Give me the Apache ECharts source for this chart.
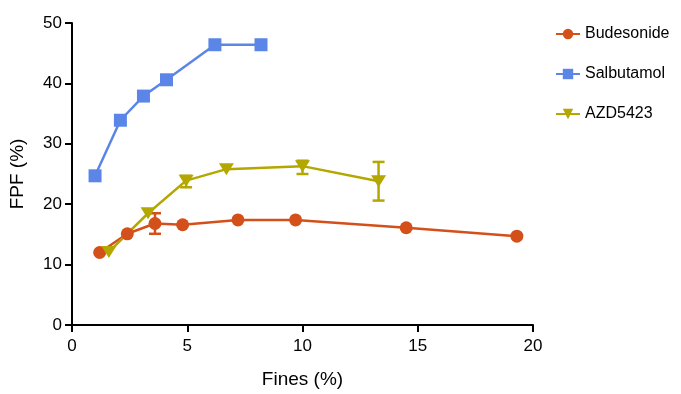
<!DOCTYPE html>
<html>
<head>
<meta charset="utf-8">
<script src="https://cdn.jsdelivr.net/npm/echarts@6/dist/echarts.min.js"></script>
<style>
  html, body { margin: 0; padding: 0; background: #fff; }
  #chart { width: 681px; height: 394px; }
</style>
</head>
<body>
<div id="chart"></div>
<script>
// data: [fines %, FPF %]
const budesonide = [[1.2, 12.0], [2.4, 15.1], [3.6, 16.8], [4.8, 16.6], [7.2, 17.4], [9.7, 17.4], [14.5, 16.1], [19.3, 14.7]];
const salbutamol = [[1.0, 24.7], [2.1, 33.9], [3.1, 37.9], [4.1, 40.6], [6.2, 46.4], [8.2, 46.4]];
const azd5423 = [[1.6, 12.1], [3.3, 18.5], [4.95, 23.9], [6.7, 25.8], [10.0, 26.3], [13.3, 23.8]];
// error bars: [x, low, high]
const budesonideErr = [[3.6, 15.1, 18.5]];
const azdErr = [[4.95, 22.8, 24.7], [10.0, 25.0, 27.2], [13.3, 20.6, 27.0]];

const colors = { bud: '#d4501b', sal: '#5b86e8', azd: '#b3a700' };
const font = 'Liberation Sans, Arial, Helvetica, sans-serif';

const errSeries = (data, color) => ({
  type: 'custom',
  data: data,
  silent: true,
  z: 1,
  renderItem: (params, api) => {
    const lo = api.coord([api.value(0), api.value(1)]);
    const hi = api.coord([api.value(0), api.value(2)]);
    const w = 6;
    const style = { stroke: color, lineWidth: 2.5 };
    return {
      type: 'group',
      children: [
        { type: 'line', shape: { x1: lo[0], y1: lo[1], x2: hi[0], y2: hi[1] }, style },
        { type: 'line', shape: { x1: lo[0] - w, y1: lo[1], x2: lo[0] + w, y2: lo[1] }, style },
        { type: 'line', shape: { x1: hi[0] - w, y1: hi[1], x2: hi[0] + w, y2: hi[1] }, style }
      ]
    };
  }
});

const chart = echarts.init(document.getElementById('chart'));
chart.setOption({
  animation: false,
  textStyle: { fontFamily: font },
  grid: { left: 72, right: 148, top: 23, bottom: 65 },
  legend: {
    orient: 'vertical',
    left: 550,
    top: 21,
    itemGap: 24,
    itemWidth: 24,
    itemHeight: 13,
    textStyle: { fontSize: 16, color: '#000', fontFamily: font },
    data: ['Budesonide', 'Salbutamol', 'AZD5423']
  },
  xAxis: {
    type: 'value',
    min: 0, max: 20, interval: 5,
    name: 'Fines (%)',
    nameLocation: 'middle',
    nameGap: 45,
    nameTextStyle: { fontSize: 19, color: '#000' },
    axisLine: { show: true, lineStyle: { color: '#000', width: 2 } },
    axisTick: { show: true, length: 7, lineStyle: { color: '#000', width: 2 } },
    axisLabel: { fontSize: 17, color: '#000', margin: 13 },
    splitLine: { show: false }
  },
  yAxis: {
    type: 'value',
    min: 0, max: 50, interval: 10,
    name: 'FPF (%)',
    nameLocation: 'middle',
    nameGap: 45,
    nameTextStyle: { fontSize: 19, color: '#000' },
    axisLine: { show: true, lineStyle: { color: '#000', width: 2 } },
    axisTick: { show: true, length: 7, lineStyle: { color: '#000', width: 2 } },
    axisLabel: { fontSize: 17, color: '#000', margin: 10 },
    splitLine: { show: false }
  },
  series: [
    {
      name: 'Budesonide', type: 'line', data: budesonide,
      symbol: 'circle', symbolSize: 13,
      color: colors.bud, lineStyle: { width: 2.5 }, z: 3
    },
    {
      name: 'Salbutamol', type: 'line', data: salbutamol,
      symbol: 'rect', symbolSize: 13,
      color: colors.sal, lineStyle: { width: 2.5 }, z: 3
    },
    {
      name: 'AZD5423', type: 'line', data: azd5423,
      symbol: 'triangle', symbolRotate: 180, symbolSize: [15, 12],
      color: colors.azd, lineStyle: { width: 2.5 }, z: 3
    },
    errSeries(budesonideErr, colors.bud),
    errSeries(azdErr, colors.azd)
  ]
});
</script>
</body>
</html>
